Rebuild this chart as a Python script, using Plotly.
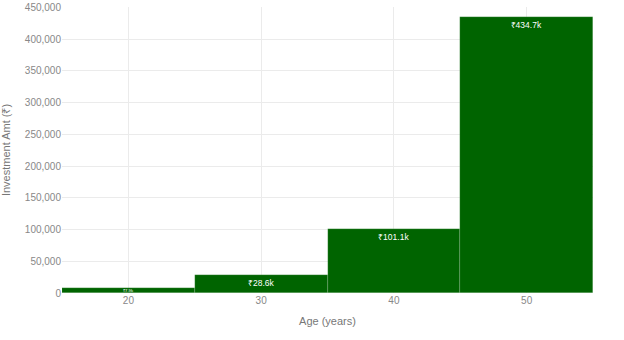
import plotly.graph_objects as go

ages = [20, 30, 40, 50]
amounts = [7900, 28600, 101100, 434700]
labels = ["₹7.9k", "₹28.6k", "₹101.1k", "₹434.7k"]

fig = go.Figure(go.Bar(
    x=ages, y=amounts, text=labels, textposition="inside",
    insidetextanchor="end", textfont=dict(color="white", size=8.5),
    marker=dict(color="#006400", line=dict(color="rgba(255,255,255,0.3)", width=0.5)),
    width=10,
))
fig.update_layout(
    width=624, height=340, template="plotly_white",
    margin=dict(l=62, r=31, t=7, b=47),
    font=dict(family="Liberation Sans, Arial, sans-serif", color="#888", size=10),
    bargap=0, showlegend=False,
)
fig.update_xaxes(title_text="Age (years)", range=[15, 55], tickvals=ages,
                 showgrid=True, gridcolor="#ebebeb", title_font=dict(size=11, color="#777"),
                 title_standoff=12, automargin=False)
fig.update_yaxes(title_text="Investment Amt (₹)", range=[0, 450500], tickvals=list(range(0, 450001, 50000)),
                 tickformat=",", gridcolor="#ebebeb", zeroline=False,
                 title_font=dict(size=11, color="#777"), automargin=False)
fig.write_html("out.html")
